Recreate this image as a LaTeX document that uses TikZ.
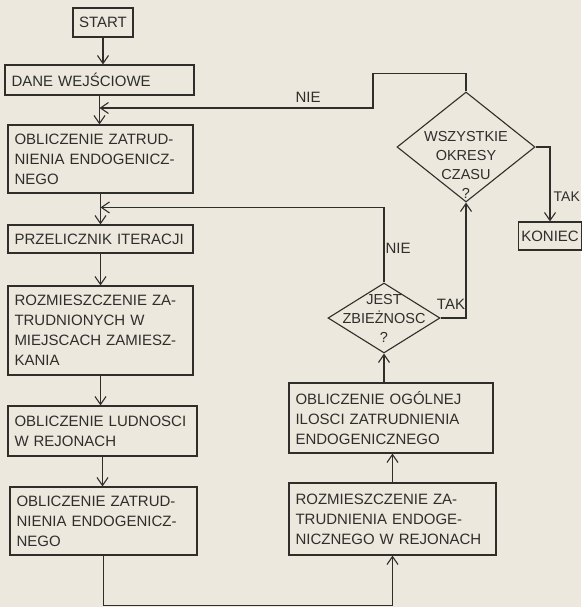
\documentclass[tikz,border=0pt]{standalone}
\usepackage{fontspec}
\setmainfont{Liberation Sans}
\usepackage{xcolor}
\usetikzlibrary{shapes.geometric, arrows.meta, positioning}
\definecolor{paper}{HTML}{ECE8DE}
\definecolor{ink}{HTML}{2F2E2B}
% text of a decision, shifted, taking no room in the diamond
\newcommand{\dtext}[2]{\raisebox{#1}[0pt][0pt]{\makebox[0pt]{\begin{tabular}{@{}c@{}}#2\end{tabular}}}}

\begin{document}
\begin{tikzpicture}[
    x=1pt, y=-1pt,
    box/.style={rectangle, draw=ink, text=ink, line width=1.1pt, inner xsep=6.5pt, inner ysep=0pt, align=left, font=\fontsize{15}{20}\selectfont},
    decision/.style={diamond, draw=ink, text=ink, line width=1.1pt, inner sep=0pt, font=\fontsize{14.5}{19}\selectfont},
    conn/.style={draw=ink, line width=1.1pt, -{Straight Barb[length=8pt, width=11pt]}},
    lbl/.style={font=\fontsize{15}{16}\selectfont, text=ink, inner sep=1pt}
]
    \useasboundingbox (0,0) rectangle (581,607);
    \fill[paper] (0,0) rectangle (581,607);

    % Left column
    \node (start) at (103, 22.5) [box, minimum width=60pt, minimum height=29pt, align=center, inner xsep=3pt] {START};
    \node (dane) at (99.5, 80) [box, text width=176pt, minimum height=30pt] {DANE WEJŚCIOWE};
    \node (obl1) at (100.5, 159) [box, text width=172pt, minimum height=68pt] {OBLICZENIE ZATRUD-\\NIENIA ENDOGENICZ-\\NEGO};
    \node (iter) at (100.5, 239) [box, text width=172pt, minimum height=28pt] {PRZELICZNIK ITERACJI};
    \node (rozm1) at (100.5, 330.5) [box, text width=172pt, minimum height=89pt] {ROZMIESZCZENIE ZA-\\TRUDNIONYCH W\\MIEJSCACH ZAMIESZ-\\KANIA};
    \node (ludn) at (102.5, 431) [box, text width=176pt, minimum height=50pt] {OBLICZENIE LUDNOSCI\\W REJONACH};
    \node (obl2) at (103.5, 521) [box, text width=174pt, minimum height=68pt] {OBLICZENIE ZATRUD-\\NIENIA ENDOGENICZ-\\NEGO};

    % Right column
    \node (rozm2) at (392.5, 519) [box, text width=194pt, minimum height=72pt] {ROZMIESZCZENIE ZA-\\TRUDNIENIA ENDOGE-\\NICZNEGO W REJONACH};
    \node (ogol) at (391, 418) [box, text width=191pt, minimum height=70pt] {OBLICZENIE OGÓLNEJ\\ILOSCI ZATRUDNIENIA\\ENDOGENICZNEGO};
    \node (zb) at (384, 318) [decision, minimum width=112pt, minimum height=70pt] {\dtext{-5pt}{JEST\\ZBIEŻNOSC\\?}};
    \node (wsz) at (466, 147) [decision, minimum width=138pt, minimum height=110pt] {\dtext{-23pt}{WSZYSTKIE\\OKRESY\\CZASU\\?}};
    \node (koniec) at (550, 236) [box, inner xsep=3pt, minimum width=61pt, minimum height=28pt, align=center] {KONIEC};

    % Main flow
    \draw [conn] (start.south) -- (start.south |- dane.north);
    \draw [conn] (dane.south) -- (dane.south |- obl1.north);
    \draw [conn] (obl1.south) -- (obl1.south |- iter.north);
    \draw [conn] (iter.south) -- (iter.south |- rozm1.north);
    \draw [conn] (rozm1.south) -- (rozm1.south |- ludn.north);
    \draw [conn] (ludn.south) -- (ludn.south |- obl2.north);
    \draw [conn] (obl2.south) -- ++(0,50) -| (rozm2.south);
    \draw [conn] (rozm2.north) -- (rozm2.north |- ogol.south);
    \draw [conn] (zb.south |- ogol.north) -- (zb.south);

    % Decisions
    \coordinate (nieturn) at (373, 108);
    \draw [conn] (wsz.north) -- ++(0,-18) -| (nieturn) -- (dane.south |- nieturn);
    \node (nie1) at (308, 97) [lbl] {NIE};
    \draw [conn] (zb.north) -- ++(0,-75) coordinate (zbup) -- (obl1.south |- zbup);
    \node (nie2) at (398, 248) [lbl] {NIE};
    \draw [conn] (zb.east) -| (wsz.south);
    \node (tak1) at (451, 304) [lbl] {TAK};
    \draw [conn] (wsz.east) -| (koniec.north);
    \node (tak2) at (553.5, 197) [lbl, anchor=west, inner sep=0pt, font=\fontsize{14}{16}\selectfont] {TAK};

\end{tikzpicture}
\end{document}
